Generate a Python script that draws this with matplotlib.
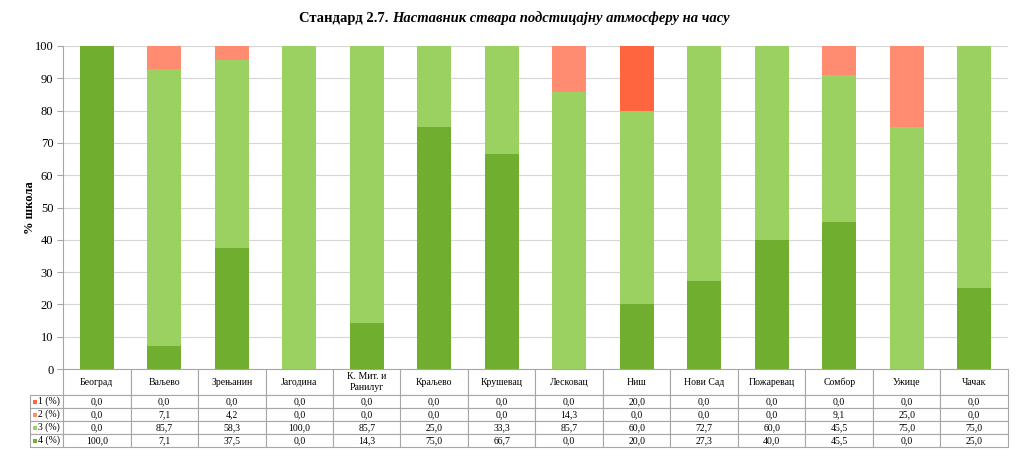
import matplotlib
matplotlib.use("Agg")
import matplotlib.pyplot as plt
import numpy as np
from matplotlib.offsetbox import TextArea, HPacker, AnnotationBbox
from matplotlib.patches import Rectangle

plt.rcParams['font.family'] = ['Liberation Serif', 'DejaVu Serif']

categories = ["Београд", "Ваљево", "Зрењанин", "Јагодина", "К. Мит. и\nРанилуг",
              "Краљево", "Крушевац", "Лесковац", "Ниш", "Нови Сад",
              "Пожаревац", "Сомбор", "Ужице", "Чачак"]
s1 = [0.0, 0.0, 0.0, 0.0, 0.0, 0.0, 0.0, 0.0, 20.0, 0.0, 0.0, 0.0, 0.0, 0.0]
s2 = [0.0, 7.1, 4.2, 0.0, 0.0, 0.0, 0.0, 14.3, 0.0, 0.0, 0.0, 9.1, 25.0, 0.0]
s3 = [0.0, 85.7, 58.3, 100.0, 85.7, 25.0, 33.3, 85.7, 60.0, 72.7, 60.0, 45.5, 75.0, 75.0]
s4 = [100.0, 7.1, 37.5, 0.0, 14.3, 75.0, 66.7, 0.0, 20.0, 27.3, 40.0, 45.5, 0.0, 25.0]
series_labels = ["1 (%)", "2 (%)", "3 (%)", "4 (%)"]
colors = ["#FF6640", "#FF8C70", "#9BD160", "#6FAE2F"]

W, H = 1024, 458
fig = plt.figure(figsize=(W / 100, H / 100), dpi=100)
ax_l, ax_r, ax_t, ax_b = 63, 1008, 46, 369
ax = fig.add_axes([ax_l / W, 1 - ax_b / H, (ax_r - ax_l) / W, (ax_b - ax_t) / H])

x = np.arange(len(categories))
bottom = np.zeros(len(categories))
for vals, col in zip([s4, s3, s2, s1], [colors[3], colors[2], colors[1], colors[0]]):
    ax.bar(x, vals, width=0.5, bottom=bottom, color=col, zorder=3)
    bottom += np.array(vals)

ax.set_xlim(-0.5, len(categories) - 0.5)
ax.set_ylim(0, 100)
ax.set_yticks(np.arange(0, 101, 10))
ax.tick_params(axis='y', labelsize=9, length=4, color='#A6A6A6', pad=3)
ax.set_xticks([])
ax.yaxis.grid(True, color='#D6D6D6', linewidth=0.8, zorder=0)
for s in ['top', 'right', 'bottom']:
    ax.spines[s].set_visible(False)
ax.spines['left'].set_color('#A6A6A6')
ax.set_ylabel("% школа", fontsize=9, fontweight='bold', labelpad=-1)

# Table
table_rows = [s1, s2, s3, s4]
cell_text = [[""] + categories]
for lab, row in zip(series_labels, table_rows):
    cell_text.append([lab] + [f"{v:.1f}".replace(".", ",") for v in row])

ax_w_px = ax_r - ax_l
ax_h_px = ax_b - ax_t
lab_w = 33 / ax_w_px
tab_h = 78 / ax_h_px
tbl = ax.table(cellText=cell_text, cellLoc='center',
               bbox=[-lab_w, -tab_h, 1 + lab_w, tab_h])
tbl.auto_set_font_size(False)
for (r, c), cell in tbl.get_celld().items():
    cell.set_edgecolor('#A6A6A6')
    cell.set_linewidth(0.8)
    cell.set_fontsize(7)
    cell.set_width(33 / 67.5 if c == 0 else 1.0)
    cell.set_height(2.0 if r == 0 else 1.0)
    if r == 0 and c == 0:
        cell.set_edgecolor('none')
    if c == 0 and r > 0:
        cell.get_text().set_horizontalalignment('left')
        cell.PAD = 0.25

row_h = tab_h / 6
sq_w, sq_h = 4 / ax_w_px, 4 / ax_h_px
for i, col in enumerate(colors):
    yc = -(2 + i + 0.5) * row_h
    ax.add_patch(Rectangle((-lab_w + 3 / ax_w_px, yc - sq_h / 2), sq_w, sq_h,
                           facecolor=col, edgecolor='none', transform=ax.transAxes,
                           clip_on=False, zorder=5))

# Title
t1 = TextArea("Стандард 2.7. ", textprops=dict(fontsize=10.5, fontweight='bold'))
t2 = TextArea("Наставник ствара подстицајну атмосферу на часу",
              textprops=dict(fontsize=10.5, fontweight='bold', fontstyle='italic'))
box = HPacker(children=[t1, t2], align='baseline', pad=0, sep=0)
ab = AnnotationBbox(box, (514 / W, 1 - 18 / H), xycoords='figure fraction',
                    frameon=False, box_alignment=(0.5, 0.5))
fig.add_artist(ab)

fig.savefig("out.png", dpi=100, facecolor='white')
